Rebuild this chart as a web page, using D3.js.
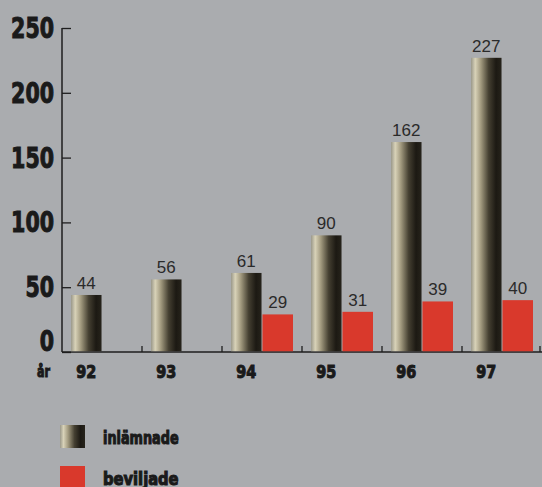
<!DOCTYPE html>
<html>
<head>
<meta charset="utf-8">
<script src="https://d3js.org/d3.v7.min.js"></script>
<style>
  body { margin: 0; background: #aaacaf; }
  svg { display: block; }
  .heavy { font-family: "DejaVu Sans Condensed", "Liberation Sans Narrow", sans-serif; font-weight: bold; fill: #1a1a1a; stroke: #1a1a1a; stroke-width: 1px; }
  .val { font-family: "Liberation Sans", Arial, sans-serif; font-size: 17px; fill: #2a2a2a; }
</style>
</head>
<body>
<script>
// data
var years = ["92", "93", "94", "95", "96", "97"];
var inlamnade = [44, 56, 61, 90, 162, 227];
var beviljade = [null, null, 29, 31, 39, 40];
var yTicks = [0, 50, 100, 150, 200, 250];
var seriesNames = ["inlämnade", "beviljade"];

var W = 542, H = 487;
var svg = d3.select("body").append("svg").attr("width", W).attr("height", H);

svg.append("rect").attr("width", W).attr("height", H).attr("fill", "#aaacaf");

var defs = svg.append("defs");
var grad = defs.append("linearGradient").attr("id", "cyl")
  .attr("x1", "0%").attr("x2", "100%").attr("y1", "0%").attr("y2", "0%");
grad.append("stop").attr("offset", "0%").attr("stop-color", "#9a988a");
grad.append("stop").attr("offset", "14%").attr("stop-color", "#d8d2b8");
grad.append("stop").attr("offset", "32%").attr("stop-color", "#a39b80");
grad.append("stop").attr("offset", "58%").attr("stop-color", "#443f31");
grad.append("stop").attr("offset", "82%").attr("stop-color", "#1c1913");
grad.append("stop").attr("offset", "100%").attr("stop-color", "#26231b");

var x0 = d3.scaleBand().domain(years).range([62, 542]);
var x1 = d3.scaleBand().domain(seriesNames).range([9, 71]).paddingInner(0.03);
var y = d3.scaleLinear().domain([0, 250]).range([352, 28]);

var colors = { "inlämnade": "url(#cyl)", "beviljade": "#d9392c" };

// narrow heavy text: squeeze to the width seen in the print
function squeeze(sel, perChar) {
  sel.attr("textLength", function() { return this.textContent.length * perChar; })
     .attr("lengthAdjust", "spacingAndGlyphs");
}

// y axis
var yAxis = svg.append("g").attr("transform", "translate(62,0)")
  .call(d3.axisRight(y).tickValues(yTicks).tickSize(9).tickFormat(""));
yAxis.select(".domain").attr("stroke", "#1e1e1e").attr("stroke-width", 1.5).attr("d", "M0," + y(250) + "V" + y(0));
yAxis.selectAll(".tick line").attr("stroke", "#1e1e1e").attr("stroke-width", 1.3);

svg.append("g").selectAll("text").data(yTicks).join("text")
  .attr("class", "heavy")
  .attr("x", 54)
  .attr("y", function(d) { return y(d) + (d === 0 ? -11 : 0); })
  .attr("dy", "0.36em")
  .attr("text-anchor", "end")
  .style("font-size", "28px")
  .text(function(d) { return d; })
  .call(squeeze, 14.3);

// x axis line and separators
svg.append("line").attr("x1", 62).attr("x2", 542).attr("y1", y(0)).attr("y2", y(0))
  .attr("stroke", "#1e1e1e").attr("stroke-width", 1.5);
svg.append("g").selectAll("line").data(years.slice(1)).join("line")
  .attr("x1", function(d) { return x0(d); }).attr("x2", function(d) { return x0(d); })
  .attr("y1", y(0)).attr("y2", y(0) - 6)
  .attr("stroke", "#1e1e1e").attr("stroke-width", 1.3);
svg.append("line").attr("x1", 540).attr("x2", 540).attr("y1", y(0)).attr("y2", y(0) - 6)
  .attr("stroke", "#1e1e1e").attr("stroke-width", 1.3);

// bars
var rows = years.map(function(yr, i) {
  return { year: yr, values: [
    { key: "inlämnade", value: inlamnade[i] },
    { key: "beviljade", value: beviljade[i] }
  ].filter(function(v) { return v.value != null; }) };
});

var groups = svg.append("g").selectAll("g").data(rows).join("g")
  .attr("transform", function(d) { return "translate(" + x0(d.year) + ",0)"; });

groups.selectAll("rect").data(function(d) { return d.values; }).join("rect")
  .attr("x", function(d) { return x1(d.key); })
  .attr("width", x1.bandwidth())
  .attr("y", function(d) { return y(d.value); })
  .attr("height", function(d) { return y(0) - y(d.value) - 0.75; })
  .attr("fill", function(d) { return colors[d.key]; });

groups.selectAll("text.val").data(function(d) { return d.values; }).join("text")
  .attr("class", "val")
  .attr("x", function(d) { return x1(d.key) + x1.bandwidth() / 2; })
  .attr("y", function(d) { return y(d.value) - 6; })
  .attr("text-anchor", "middle")
  .text(function(d) { return d.value; });

// x labels
svg.append("g").selectAll("text").data(years).join("text")
  .attr("class", "heavy")
  .attr("x", function(d) { return x0(d) + x1("inlämnade") + x1.bandwidth() / 2 - 10; })
  .attr("y", 378)
  .style("font-size", "18px")
  .text(function(d) { return d; })
  .call(squeeze, 10);

svg.append("text").attr("class", "heavy")
  .attr("x", 37).attr("y", 377)
  .style("font-size", "16px").text("år")
  .call(squeeze, 6.5);

// legend
var legend = svg.append("g").selectAll("g").data(seriesNames).join("g")
  .attr("transform", function(d, i) { return "translate(60," + (425 + i * 41) + ")"; });
legend.append("rect").attr("width", 25).attr("height", 23)
  .attr("fill", function(d) { return colors[d]; });
legend.append("text").attr("class", "heavy")
  .attr("x", 43).attr("y", 19)
  .style("font-size", "17px")
  .text(function(d) { return d; })
  .call(squeeze, 8.4);
</script>
</body>
</html>
